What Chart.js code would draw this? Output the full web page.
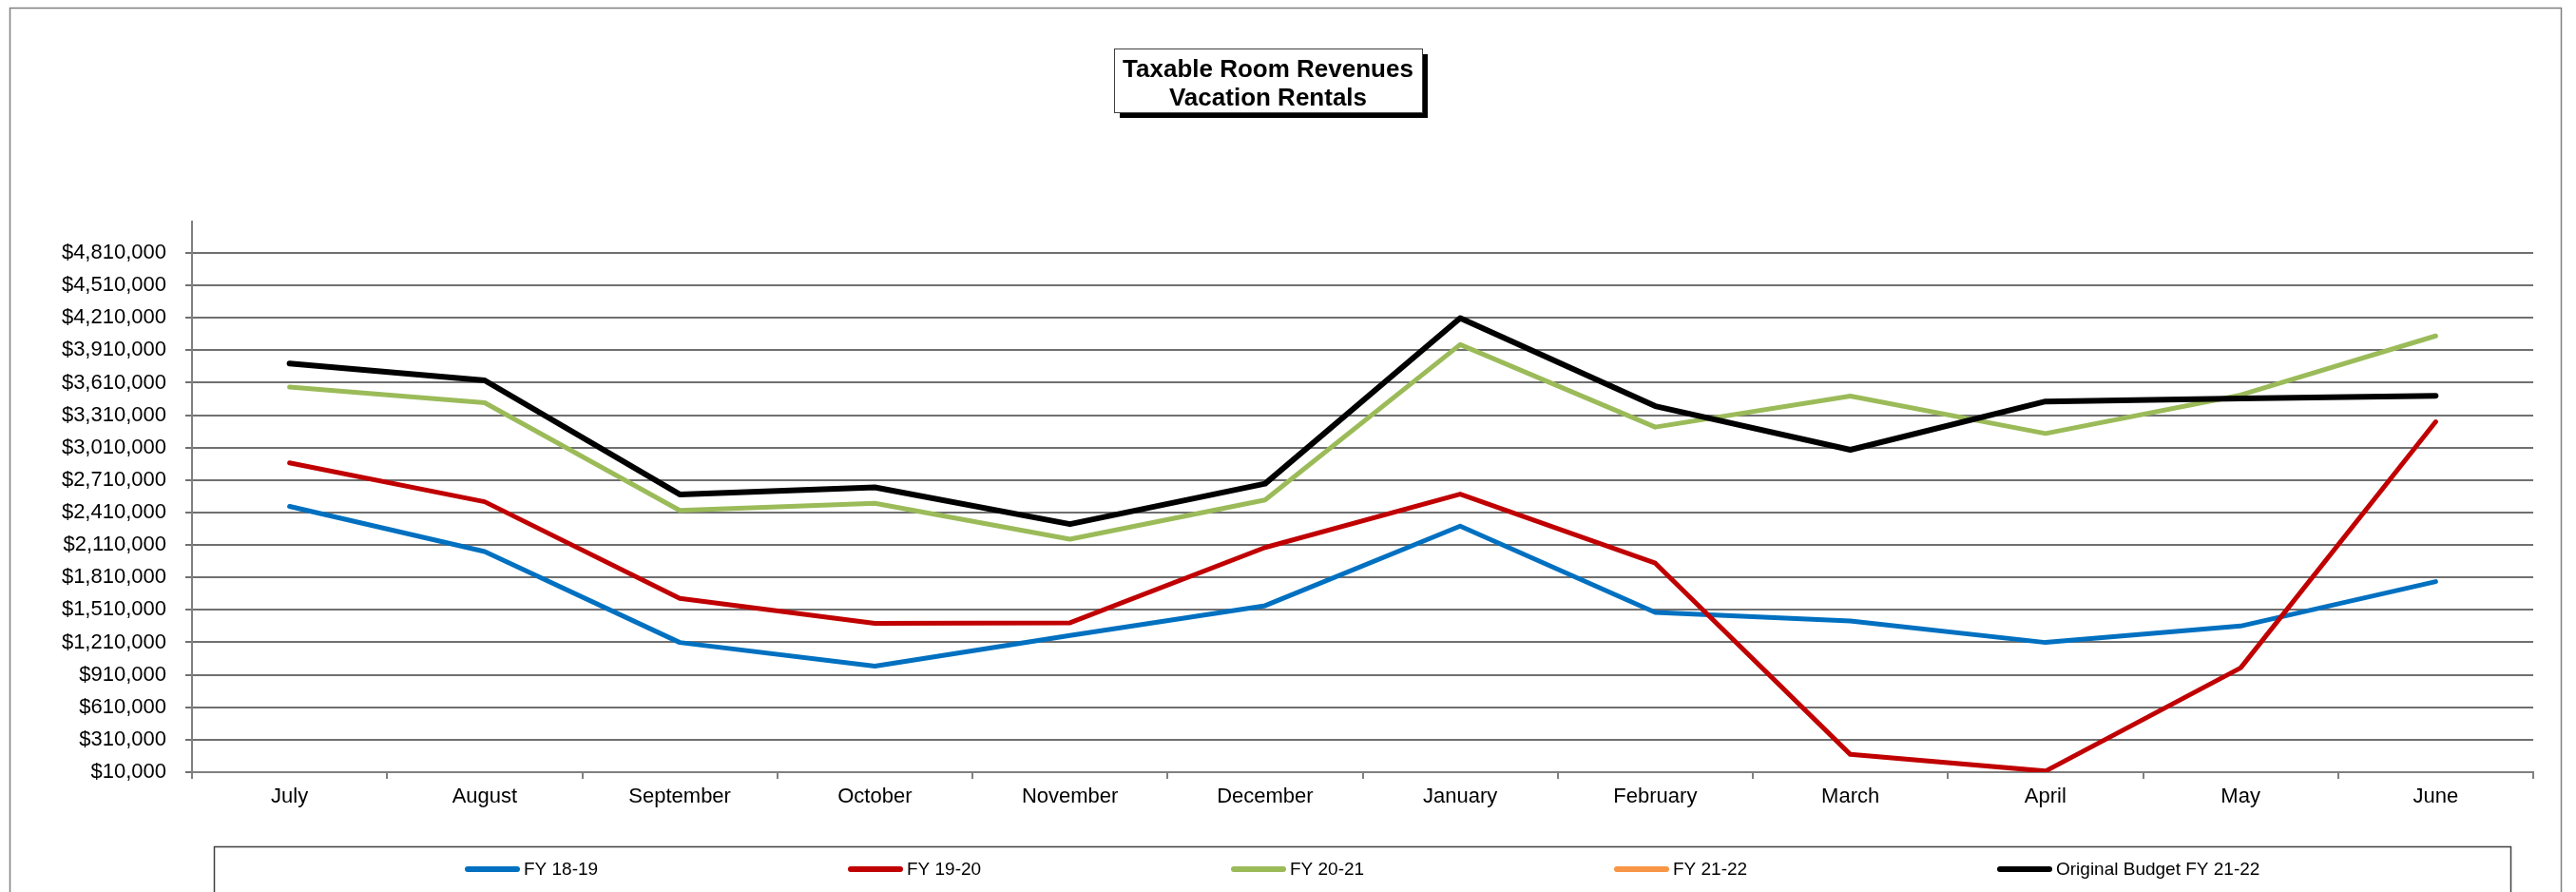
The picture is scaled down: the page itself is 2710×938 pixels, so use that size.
<!DOCTYPE html>
<html>
<head>
<meta charset="utf-8">
<script src="https://cdn.jsdelivr.net/npm/chart.js@4/dist/chart.umd.min.js"></script>
<style>
  html, body { margin: 0; padding: 0; background: #ffffff; }
  canvas { display: block; }
</style>
</head>
<body>
<canvas id="c" width="2710" height="938"></canvas>
<script>
const TITLE_LINES = ['Taxable Room Revenues', 'Vacation Rentals'];
const CATEGORIES = ['July', 'August', 'September', 'October', 'November', 'December',
                    'January', 'February', 'March', 'April', 'May', 'June'];
const Y_TICKS = [10000, 310000, 610000, 910000, 1210000, 1510000, 1810000, 2110000, 2410000,
                 2710000, 3010000, 3310000, 3610000, 3910000, 4210000, 4510000, 4810000];
const FY_18_19 = [2467000, 2050000, 1209000, 990000, 1274000, 1549000, 2285000, 1487000, 1407000, 1209000, 1361000, 1772000];
const FY_19_20 = [2869000, 2510000, 1617000, 1385000, 1391000, 2087000, 2581000, 1942000, 174000, 20000, 974000, 3249000];
const FY_20_21 = [3570000, 3425000, 2430000, 2495000, 2164000, 2526000, 3963000, 3200000, 3487000, 3141000, 3496000, 4043000];
const FY_21_22 = [null, null, null, null, null, null, null, null, null, null, null, null];
const BUDGET_FY_21_22 = [3787000, 3632000, 2578000, 2643000, 2303000, 2677000, 4207000, 3394000, 2990000, 3437000, 3465000, 3490000];
const SERIES_NAMES = ['FY 18-19', 'FY 19-20', 'FY 20-21', 'FY 21-22', 'Original Budget FY 21-22'];
const SERIES_COLORS = ['#0070C0', '#C00000', '#9BBB59', '#F79646', '#000000'];
const SERIES_DATA = [FY_18_19, FY_19_20, FY_20_21, FY_21_22, BUDGET_FY_21_22];

const FONT = '"Liberation Sans", Arial, sans-serif';
Chart.defaults.font.family = FONT;
Chart.defaults.color = '#000000';

const decor = {
  id: 'decor',
  beforeDraw(chart) {
    const ctx = chart.ctx;
    ctx.save();
    // outer frame
    ctx.strokeStyle = '#808080';
    ctx.lineWidth = 1.5;
    ctx.strokeRect(10.5, 8.5, 2684, 1000);
    // title box with shadow
    const tx = 1172, ty = 51, tw = 324, th = 67;
    ctx.fillStyle = '#000000';
    ctx.fillRect(tx + 6, ty + 6, tw, th);
    ctx.fillStyle = '#ffffff';
    ctx.fillRect(tx, ty, tw, th);
    ctx.strokeStyle = '#404040';
    ctx.lineWidth = 1;
    ctx.strokeRect(tx + 0.5, ty + 0.5, tw, th);
    ctx.fillStyle = '#000000';
    ctx.font = 'bold 26px ' + FONT;
    ctx.textAlign = 'center';
    ctx.textBaseline = 'alphabetic';
    TITLE_LINES.forEach((t, i) => ctx.fillText(t, tx + tw / 2, ty + 30 + i * 29.5));
    // legend box
    const lx = 225, ly = 890, lw = 2416;
    ctx.strokeStyle = '#404040';
    ctx.lineWidth = 1.5;
    ctx.strokeRect(lx + 0.5, ly + 0.5, lw, 200);
    ctx.font = '19px ' + FONT;
    ctx.textAlign = 'left';
    ctx.textBaseline = 'middle';
    chart.data.datasets.forEach((ds, i) => {
      const x0 = lx + 264 + i * 403;
      const y0 = 914;
      ctx.strokeStyle = ds.borderColor;
      ctx.lineWidth = 6;
      ctx.lineCap = 'round';
      ctx.beginPath();
      ctx.moveTo(x0 + 3, y0);
      ctx.lineTo(x0 + 55, y0);
      ctx.stroke();
      ctx.fillStyle = '#000000';
      ctx.fillText(ds.label, x0 + 62, y0 + 1);
    });
    ctx.restore();
  }
};

new Chart(document.getElementById('c'), {
  type: 'line',
  data: {
    labels: CATEGORIES,
    datasets: SERIES_DATA.map((d, i) => ({
      label: SERIES_NAMES[i],
      data: d,
      borderColor: SERIES_COLORS[i],
      backgroundColor: SERIES_COLORS[i],
      borderWidth: i === 4 ? 6 : 5,
      pointRadius: 0,
      pointHoverRadius: 0,
      tension: 0,
      fill: false,
      borderCapStyle: 'round',
      borderJoinStyle: 'round',
      order: 5 - i
    }))
  },
  options: {
    responsive: false,
    animation: false,
    devicePixelRatio: 1,
    layout: { padding: { top: 233, right: 45, bottom: 76, left: 0 } },
    plugins: {
      legend: { display: false },
      title: { display: false },
      tooltip: { enabled: false }
    },
    scales: {
      x: {
        offset: true,
        grid: { offset: true, drawOnChartArea: false, color: '#808080', lineWidth: 2, tickLength: 7 },
        border: { color: '#808080', width: 2 },
        ticks: { font: { size: 22 }, color: '#000000', padding: 6, maxRotation: 0, autoSkip: false },
        afterFit: s => { s.height = 50; }
      },
      y: {
        min: 10000,
        max: 5100000,
        afterBuildTicks: s => { s.ticks = Y_TICKS.map(v => ({ value: v })); },
        afterFit: s => { s.width = 202; },
        grid: { color: '#707070', lineWidth: 2, tickLength: 7 },
        border: { color: '#808080', width: 2 },
        ticks: {
          font: { size: 22 },
          color: '#000000',
          padding: 20,
          callback: v => '$' + Number(v).toLocaleString('en-US')
        }
      }
    }
  },
  plugins: [decor]
});
</script>
</body>
</html>
